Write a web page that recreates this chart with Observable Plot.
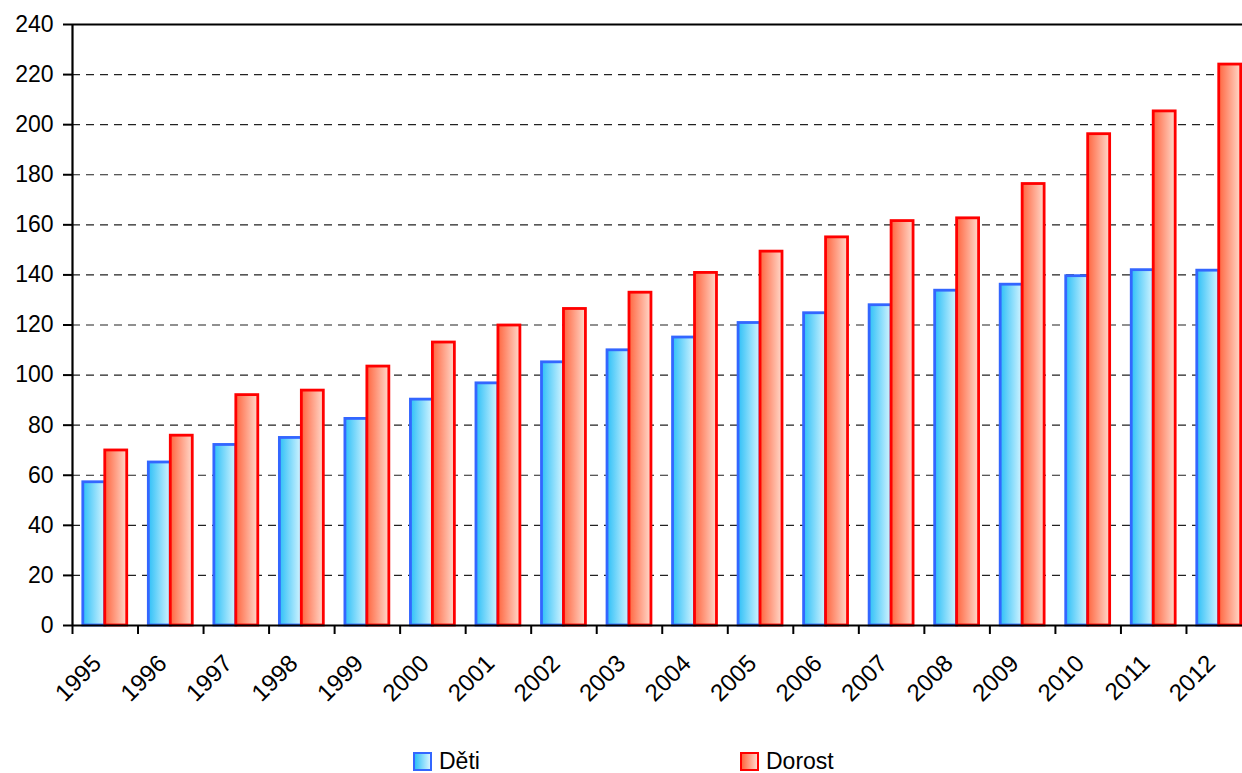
<!DOCTYPE html>
<html>
<head>
<meta charset="utf-8">
<script src="https://cdn.jsdelivr.net/npm/d3@7"></script>
<script src="https://cdn.jsdelivr.net/npm/@observablehq/plot@0.6"></script>
<style>
  html, body { margin: 0; padding: 0; background: #fff; overflow: hidden; }
  #chart { width: 1242px; height: 773px; position: relative; font-family: "Liberation Sans", Arial, sans-serif; }
  #legend { position: relative; height: 43px; font-size: 23px; color: #000; }
  .item { position: absolute; top: 18px; display: flex; align-items: center; }
  .sw { width: 15px; height: 15px; margin-right: 7px; box-sizing: content-box; }
</style>
</head>
<body>
<div id="chart"></div>
<script>
const years = ["1995","1996","1997","1998","1999","2000","2001","2002","2003","2004","2005","2006","2007","2008","2009","2010","2011","2012"];
const deti   = [57.2, 65.1, 72.1, 74.9, 82.5, 90.2, 96.7, 105.1, 109.9, 115.0, 120.8, 124.7, 127.9, 133.7, 136.1, 139.5, 141.9, 141.7];
const dorost = [69.9, 75.8, 92.0, 93.8, 103.4, 113.0, 119.8, 126.4, 132.9, 140.8, 149.3, 155.0, 161.5, 162.6, 176.3, 196.2, 205.3, 224.0];
const seriesNames = ["Děti", "Dorost"];
const yTicks = [0, 20, 40, 60, 80, 100, 120, 140, 160, 180, 200, 220, 240];

const W = 1242, H = 730;
const mL = 72, mR = -9.5, mT = 24, mB = 105;
const bw = (W - mL - mR) / years.length;
const outerPad = 10.8;

const rowsD = years.map((y, i) => ({year: y, value: deti[i]}));
const rowsR = years.map((y, i) => ({year: y, value: dorost[i]}));

const font = "Liberation Sans, Arial, sans-serif";

const plot = Plot.plot({
  width: W, height: H,
  marginLeft: mL, marginRight: mR, marginTop: mT, marginBottom: mB,
  style: {fontFamily: font, fontSize: "23px", color: "#000", background: "#fff", overflow: "visible"},
  x: {domain: years, padding: 0, round: false, label: null},
  y: {domain: [0, 240], label: null},
  marks: [
    Plot.ruleY(yTicks.filter(t => t > 0 && t < 240), {stroke: "#222", strokeWidth: 1.2, strokeDasharray: "8,6"}),
    Plot.barY(rowsD, {x: "year", y: "value", fill: "url(#gBlue)", stroke: "#3366ff", strokeWidth: 2.8, insetLeft: outerPad, insetRight: bw / 2}),
    Plot.barY(rowsR, {x: "year", y: "value", fill: "url(#gRed)", stroke: "#ff0000", strokeWidth: 2.8, insetLeft: bw / 2, insetRight: outerPad}),
    Plot.ruleY([240], {stroke: "#000", strokeWidth: 2.2}),
    Plot.ruleY([0], {stroke: "#000", strokeWidth: 2.2}),
    Plot.ruleX([years[0]], {dx: -bw / 2, y1: 0, y2: 240, stroke: "#000", strokeWidth: 2.2}),
    Plot.axisY({ticks: yTicks, tickSize: 9, tickPadding: 10, strokeWidth: 2, fontSize: 23, label: null}),
    Plot.axisX({tickSize: 9, tickFormat: () => "", dx: -bw / 2, strokeWidth: 2, label: null}),
    Plot.axisX({tickSize: 0, tickPadding: 34, tickRotate: -45, fontSize: 24, dx: -8, label: null})
  ]
});

const svg = d3.select(plot);
const defs = svg.insert("defs", ":first-child");
const g1 = defs.append("linearGradient").attr("id", "gBlue").attr("x1", "0").attr("x2", "1").attr("y1", "0").attr("y2", "0");
g1.append("stop").attr("offset", "0%").attr("stop-color", "#2ec0f7");
g1.append("stop").attr("offset", "100%").attr("stop-color", "#d4f4ff");
const g2 = defs.append("linearGradient").attr("id", "gRed").attr("x1", "0").attr("x2", "1").attr("y1", "0").attr("y2", "0");
g2.append("stop").attr("offset", "0%").attr("stop-color", "#ff6640");
g2.append("stop").attr("offset", "100%").attr("stop-color", "#ffd9cb");

const chart = document.getElementById("chart");
chart.appendChild(plot);

const legend = document.createElement("div");
legend.id = "legend";
const legendItems = [
  {name: seriesNames[0], left: 413, fill: "linear-gradient(to right, #2ec0f7, #d4f4ff)", stroke: "#3366ff"},
  {name: seriesNames[1], left: 740, fill: "linear-gradient(to right, #ff6640, #ffd9cb)", stroke: "#ff0000"}
];
for (const it of legendItems) {
  const d = document.createElement("div");
  d.className = "item";
  d.style.left = it.left + "px";
  const sw = document.createElement("span");
  sw.className = "sw";
  sw.style.background = it.fill;
  sw.style.border = "2px solid " + it.stroke;
  const t = document.createElement("span");
  t.textContent = it.name;
  d.appendChild(sw); d.appendChild(t);
  legend.appendChild(d);
}
chart.appendChild(legend);
</script>
</body>
</html>
